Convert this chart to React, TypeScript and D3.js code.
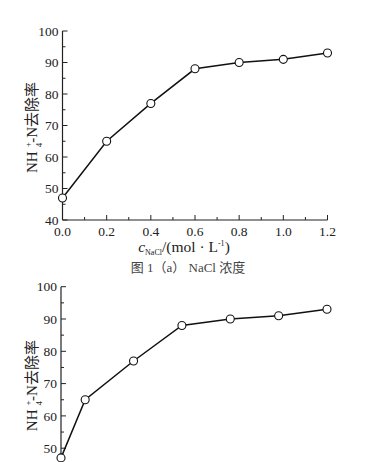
import React from "react";
import * as d3 from "d3";

const xValues1 = [0, 0.2, 0.4, 0.6, 0.8, 1.0, 1.2];
const removal1 = [47, 65, 77, 88, 90, 91, 93];
const xTicks1 = [0, 0.2, 0.4, 0.6, 0.8, 1.0, 1.2];
const yTicks = [40, 50, 60, 70, 80, 90, 100];

const xValues2 = [0, 1, 3, 5, 7, 9, 11];
const removal2 = [47, 65, 77, 88, 90, 91, 93];

const SERIF = "'Liberation Serif', 'Times New Roman', 'Noto Sans CJK SC', serif";
const H = 462;

type PanelProps = {
  xs: number[];
  ys: number[];
  xDomain: [number, number];
  x0: number;
  x1: number;
  yTop: number;
  yBot: number;
  xTicks?: number[];
  showXAxis: boolean;
};

function Panel({ xs, ys, xDomain, x0, x1, yTop, yBot, xTicks, showXAxis }: PanelProps) {
  const x = d3.scaleLinear().domain(xDomain).range([x0, x1]);
  const y = d3.scaleLinear().domain([40, 100]).range([yBot, yTop]);
  const line = d3
    .line<number>()
    .x((_, i) => x(xs[i]))
    .y((d) => y(d));
  const minorY = d3.range(45, 100, 10).filter((t) => y(t) < H);
  const majorY = yTicks.filter((t) => y(t) < H - 5);
  const minorX = xTicks ? d3.range(0.1, 1.2, 0.2) : [];
  const yMid = (yTop + yBot) / 2;
  return (
    <g>
      <line x1={x0} x2={x0} y1={y(100)} y2={Math.min(y(40), H)} stroke="#222" strokeWidth={1.2} />
      {majorY.map((t) => (
        <g key={"yt" + t}>
          <line x1={x0} x2={x0 + 5} y1={y(t)} y2={y(t)} stroke="#222" strokeWidth={1} />
          <text x={x0 - 4} y={y(t)} dy="0.35em" textAnchor="end" fontSize={13.5} fontFamily={SERIF} fill="#222">
            {t}
          </text>
        </g>
      ))}
      {minorY.map((t) => (
        <line key={"ym" + t} x1={x0} x2={x0 + 3} y1={y(t)} y2={y(t)} stroke="#222" strokeWidth={1} />
      ))}
      {showXAxis && xTicks && (
        <g>
          <line x1={x0} x2={x1} y1={yBot} y2={yBot} stroke="#222" strokeWidth={1.2} />
          {xTicks.map((t) => (
            <g key={"xt" + t}>
              <line x1={x(t)} x2={x(t)} y1={yBot} y2={yBot - 5} stroke="#222" strokeWidth={1} />
              <text x={x(t)} y={yBot + 16} textAnchor="middle" fontSize={13.5} fontFamily={SERIF} fill="#222">
                {t.toFixed(1)}
              </text>
            </g>
          ))}
          {minorX.map((t) => (
            <line key={"xm" + t} x1={x(t)} x2={x(t)} y1={yBot} y2={yBot - 3} stroke="#222" strokeWidth={1} />
          ))}
        </g>
      )}
      <g transform={`translate(${37},${yMid + 2}) rotate(-90)`}>
        <text x={0} y={0} textAnchor="middle" fontSize={15} fontFamily={SERIF} fill="#222">
          <tspan>NH</tspan>
          <tspan fontSize={9} dx={4} dy={-6}>+</tspan>
          <tspan fontSize={9} dx={-5} dy={11}>4</tspan>
          <tspan dy={-5}>-N去除率</tspan>
        </text>
      </g>
      <path d={line(ys) || ""} fill="none" stroke="#111" strokeWidth={1.5} />
      {ys.map((v, i) => (
        <circle key={"p" + i} cx={x(xs[i])} cy={y(v)} r={4} fill="#fff" stroke="#111" strokeWidth={1.1} />
      ))}
    </g>
  );
}

export default function App() {
  return (
    <svg
      width={387}
      height={462}
      style={{ position: "absolute", left: 0, top: 0, background: "#fff" }}
    >
      <rect width={387} height={462} fill="#fff" />
      <Panel
        xs={xValues1}
        ys={removal1}
        xDomain={[0, 1.2]}
        x0={62.5}
        x1={327.5}
        yTop={31}
        yBot={220}
        xTicks={xTicks1}
        showXAxis={true}
      />
      <text x={184} y={252} textAnchor="middle" fontSize={15.5} fontFamily={SERIF} fill="#222">
        <tspan fontStyle="italic">c</tspan>
        <tspan fontSize={8} dy={3}>NaCl</tspan>
        <tspan dy={-3}>/(mol · L</tspan>
        <tspan fontSize={8} dy={-6}>-1</tspan>
        <tspan dy={6}>)</tspan>
      </text>
      <text x={188} y={272} textAnchor="middle" fontSize={13} fontFamily={SERIF} fill="#444">
        图 1（a）  NaCl 浓度
      </text>
      <Panel
        xs={xValues2}
        ys={removal2}
        xDomain={[0, 11]}
        x0={61}
        x1={327}
        yTop={286.7}
        yBot={480.5}
        showXAxis={false}
      />
    </svg>
  );
}
